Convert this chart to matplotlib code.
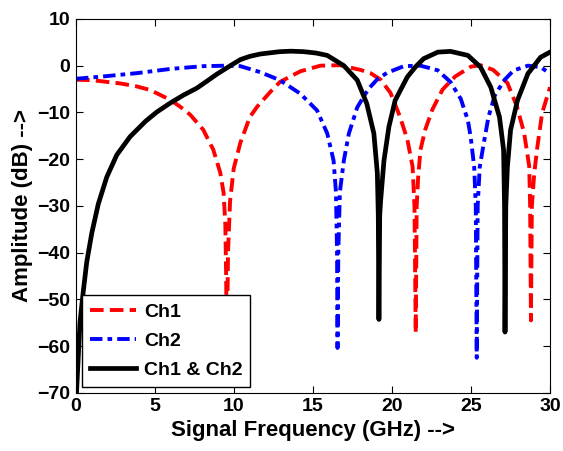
import matplotlib
matplotlib.use("Agg")
import matplotlib.pyplot as plt

plt.rcParams['font.family'] = ['Liberation Sans', 'DejaVu Sans']
plt.rcParams['font.weight'] = 'bold'

# Ch1 (red dashed)
ch1_f = [0.0, 1.0, 2.8, 3.8, 4.69, 5.96, 6.6, 7.23, 8.05, 8.69, 9.13, 9.34, 9.45, 9.5, 9.55, 9.62,
         9.75, 9.98, 10.4, 11.0, 11.46, 12.3, 12.9, 14.2, 15.47, 16.7, 18.0, 18.64, 19.28, 19.9,
         20.5, 20.97, 21.3, 21.42, 21.5, 21.56, 21.65, 21.8, 22.1, 22.55, 23.2, 24.0, 25.0,
         25.6, 26.4, 27.3, 27.9, 28.36, 28.68, 28.74, 28.79, 28.85, 29.0, 29.2, 29.5, 30.0]
ch1_db = [-3.0, -3.1, -3.8, -4.4, -5.2, -7.3, -8.8, -10.5, -13.7, -18.0, -22.9, -27.2, -34.0,
          -45.0, -62.0, -40.0, -29.0, -22.0, -16.5, -11.0, -8.8, -5.6, -3.5, -1.2, 0.0, 0.1,
          -0.9, -1.6, -3.0, -5.8, -10.9, -15.8, -21.6, -30.0, -57.2, -30.0, -24.0, -18.0, -13.7,
          -9.4, -5.1, -2.3, -0.2, 0.1, -0.9, -3.7, -8.7, -14.4, -21.5, -30.0, -54.5, -30.0,
          -23.0, -17.3, -10.1, -4.6]

# Ch2 (blue dash-dot)
ch2_f = [0.0, 1.73, 3.85, 5.96, 8.07, 9.55, 10.4, 11.67, 12.9, 14.2, 15.26, 15.9, 16.3, 16.45,
         16.52, 16.55, 16.6, 16.7, 16.95, 17.27, 17.8, 18.5, 19.1, 19.7, 20.75, 21.8, 22.9,
         23.7, 24.35, 24.8, 24.98, 25.2, 25.3, 25.36, 25.42, 25.55, 25.8, 26.1, 26.5, 27.1,
         27.7, 28.6, 29.4, 30.0]
ch2_db = [-2.8, -2.3, -1.6, -0.7, -0.1, 0.0, -0.1, -1.4, -3.1, -6.0, -9.6, -14.5, -20.3, -27.0,
          -40.0, -60.4, -40.0, -27.0, -20.3, -14.5, -8.9, -5.0, -2.8, -1.5, -0.1, 0.0, -1.0,
          -3.5, -7.1, -11.7, -15.3, -21.7, -30.0, -62.5, -30.0, -21.7, -16.7, -11.0, -6.4,
          -3.1, -1.0, 0.0, -0.3, -1.7]

# Ch1 & Ch2 (black solid)
both_f = [0.0, 0.04, 0.25, 0.46, 0.68, 1.0, 1.41, 1.95, 2.58, 3.42, 4.4, 5.12, 5.96, 6.8, 7.65,
          8.29, 8.92, 9.77, 10.4, 11.0, 11.67, 12.9, 13.6, 14.4, 15.2, 15.9, 16.95, 17.8, 18.4,
          18.85, 19.07, 19.13, 19.17, 19.22, 19.28, 19.49, 19.8, 20.2, 20.97, 21.5, 22.0, 22.9,
          23.7, 24.8, 25.6, 26.25, 26.8, 27.06, 27.12, 27.15, 27.2, 27.3, 27.5, 27.94, 28.6,
          29.4, 30.0]
both_db = [-75.0, -69.4, -55.0, -48.3, -42.0, -35.8, -29.6, -23.8, -19.1, -15.2, -11.9, -9.9,
           -8.0, -6.3, -4.8, -3.3, -1.8, 0.0, 1.3, 2.0, 2.5, 3.0, 3.1, 3.0, 2.7, 2.2, 0.0, -3.1,
           -8.1, -14.5, -23.0, -32.0, -54.3, -32.0, -28.8, -20.3, -13.1, -7.4, -2.4, -0.2, 1.5,
           2.9, 3.06, 2.2, -0.3, -4.6, -11.0, -18.0, -30.0, -57.0, -30.0, -21.7, -13.8, -7.4,
           -1.7, 1.8, 2.9]

fig = plt.figure(figsize=(5.63, 4.51), dpi=100)
ax = fig.add_axes([0.135, 0.129, 0.842, 0.829])

ax.plot(ch1_f, ch1_db, color="red", lw=2.8, dashes=(3.5, 1.6), label="Ch1")
ax.plot(ch2_f, ch2_db, color="blue", lw=2.8, dashes=(3.2, 1.3, 1.2, 1.3), label="Ch2")
ax.plot(both_f, both_db, color="black", lw=3.4, label="Ch1 & Ch2")

ax.set_xlim(0, 30)
ax.set_ylim(-70, 10)
ax.set_xticks(range(0, 31, 5))
ax.set_yticks(range(-70, 11, 10))
ax.tick_params(direction="in", top=True, right=True, labelsize=14, length=5, pad=4)
ax.set_xlabel("Signal Frequency (GHz) -->", fontsize=16, fontweight="bold", labelpad=3)
ax.set_ylabel("Amplitude (dB) -->", fontsize=16, fontweight="bold", labelpad=3)

leg = ax.legend(loc="lower left", fontsize=14, handlelength=2.4, handletextpad=0.4,
                borderaxespad=0.3, labelspacing=0.6, fancybox=False, framealpha=1,
                edgecolor="black")
leg.get_frame().set_linewidth(1.0)

fig.savefig("out.png", dpi=100)
